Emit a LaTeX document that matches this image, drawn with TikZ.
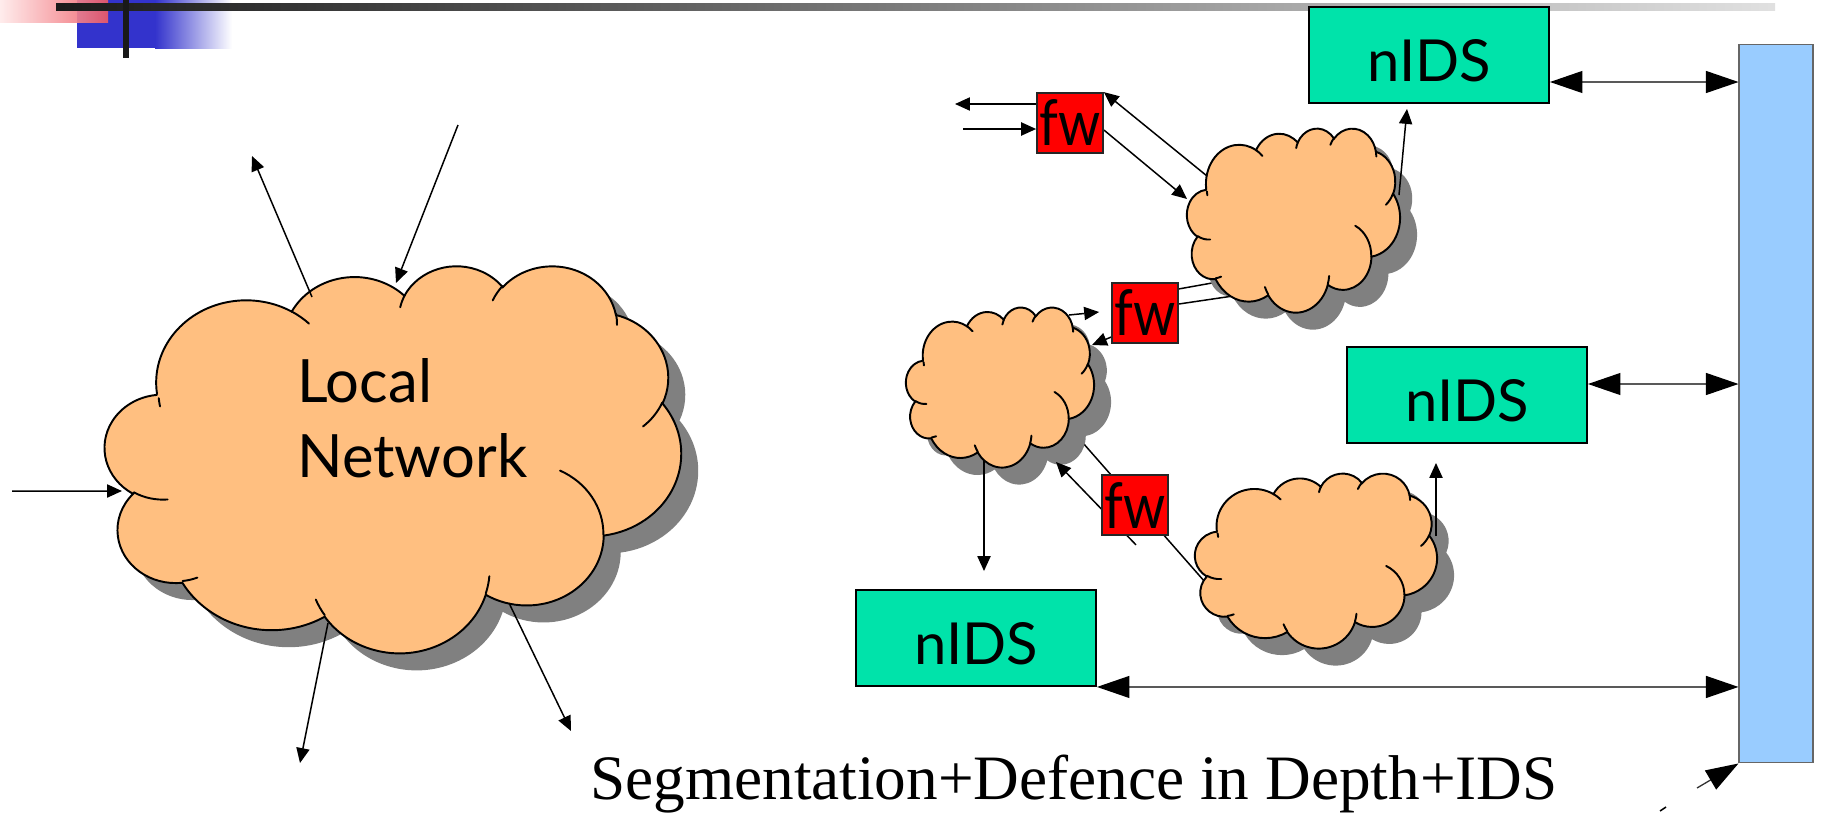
\documentclass[tikz,border=0pt]{standalone}
\usepackage{fontspec}
\setmainfont{Liberation Serif}
\newfontfamily\handfont{Lato}
\usetikzlibrary{arrows.meta,calc}
\pgfdeclarelayer{under}
\pgfdeclarelayer{front}
\pgfsetlayers{under,main,front}

\definecolor{cloudfill}{RGB}{255,191,128}
\definecolor{idsgreen}{RGB}{0,227,170}
\definecolor{barblue}{RGB}{153,204,255}
\definecolor{fwred}{RGB}{255,0,0}
\definecolor{shadowgray}{RGB}{128,128,128}
\definecolor{decoblue}{RGB}{51,51,204}
\definecolor{decopink}{RGB}{240,90,100}

% cloud outline on a 4320 x 4320 grid, y pointing down
\newcommand\cloudrim{(390,1437)
 arc[start angle=-187.746,delta angle=128.106,x radius=675.3,y radius=919.0]
 arc[start angle=-152.02,delta angle=106.58,x radius=533.3,y radius=726.7]
 arc[start angle=-153.48,delta angle=116.14,x radius=436.5,y radius=594.5]
 arc[start angle=-139.70,delta angle=129.49,x radius=485.7,y radius=659.5]
 arc[start angle=-74.77,delta angle=97.98,x radius=533.3,y radius=727.3]
 arc[start angle=-37.54,delta angle=119.40,x radius=677.5,y radius=922.0]
 arc[start angle=0.46,delta angle=121.52,x radius=578.5,y radius=786.7]
 arc[start angle=16.84,delta angle=129.41,x radius=675.2,y radius=921.5]
 arc[start angle=58.98,delta angle=91.22,x radius=772.0,y radius=1054.3]
 arc[start angle=83.31,delta angle=139.79,x radius=436.0,y radius=591.8]
 arc[start angle=120.36,delta angle=143.75,x radius=434.5,y radius=594.5]
 -- cycle}
% short creases where the puffs meet
\newcommand\cloudcreases{
 (469.3,2617.7) arc[start angle=85.55,delta angle=34.81,x radius=434.5,y radius=594.5]
 (692.8,3489.9) arc[start angle=68.23,delta angle=15.08,x radius=436.0,y radius=591.8]
 (1647.8,3909.0) arc[start angle=146.24,delta angle=12.23,x radius=675.2,y radius=921.5]
 (2882.7,3475.1) arc[start angle=4.74,delta angle=12.10,x radius=675.2,y radius=921.5]
 (3412.9,2295.4) arc[start angle=-64.03,delta angle=64.49,x radius=578.5,y radius=786.7]
 (4179.8,1535.4) arc[start angle=23.21,delta angle=26.44,x radius=533.3,y radius=727.3]
 (3832.4,542.6) arc[start angle=-10.21,delta angle=11.03,x radius=485.7,y radius=659.5]
 (2907.8,395.2) arc[start angle=-156.28,delta angle=16.58,x radius=485.7,y radius=659.5]
 (2214.1,472.0) arc[start angle=-167.73,delta angle=14.25,x radius=436.5,y radius=594.5]
 (1400.0,519.2) arc[start angle=-59.64,delta angle=13.92,x radius=675.3,y radius=919.0]
 (412.7,1578.9) arc[start angle=168.96,delta angle=5.79,x radius=675.3,y radius=919.0]}
% \netcloud{left}{top}{width}{height}, all in px
\newcommand\netcloud[4]{%
  \begin{scope}[shift={(#1+17,#2+17)}, xscale=#3/4320, yscale=#4/4320]
    \fill[shadowgray] \cloudrim;
  \end{scope}
  \begin{scope}[shift={(#1,#2)}, xscale=#3/4320, yscale=#4/4320]
    \filldraw[fill=cloudfill, draw=black, line width=1.1pt] \cloudrim;
    \draw[line width=1.1pt, line cap=round] \cloudcreases;
  \end{scope}}
\newcommand\fwlabel{\scalebox{0.85}[1]{fw}}

\tikzset{
  fwbox/.style={draw=black!85, line width=1pt, fill=fwred, minimum width=1.32cm,
    minimum height=1.2cm, inner sep=0pt, font=\handfont\fontsize{36}{36}\selectfont},
  idsbox/.style={draw=black, line width=1.1pt, fill=idsgreen, minimum width=4.8cm,
    minimum height=1.92cm, inner sep=0pt, text height=30.5pt, text depth=0pt,
    font=\handfont\fontsize{33}{33}\selectfont},
  handtext/.style={inner sep=0pt, font=\handfont\fontsize{34}{34}\selectfont},
  link/.style={line width=0.85pt, draw=black},
  arr/.style={link, -{Triangle[length=8.5pt,width=7.5pt]}},
  dbl/.style={line width=0.75pt, draw=black!65,
    {Triangle[length=18.5pt,width=12.5pt,color=black]}-{Triangle[length=18.5pt,width=12.5pt,color=black]}},
  bigarr/.style={line width=0.75pt, draw=black!80, -{Triangle[length=18.5pt,width=12.5pt,color=black]}},
}

\begin{document}
\begin{tikzpicture}[x=0.02cm, y=-0.02cm]
% page and header ornament
\begin{pgfonlayer}{under}
  \fill[white] (0,0) rectangle (1826,812);
  \fill[decoblue] (77,0) rectangle (156,48);
  \shade[left color=decoblue, right color=white] (155,0) rectangle (232,48);
  \shade[left color=red!8, right color=decopink, opacity=0.9] (0,0) rectangle (108,22);
  \shade[left color=black!90, right color=black!12] (56,3) rectangle (1775,10);
  \fill[black!90] (123,0) rectangle (129,58);
\end{pgfonlayer}
\useasboundingbox (0,0) rectangle (1826,812);

% network clouds
\netcloud{105}{265}{576}{387}
\netcloud{1187}{128}{213}{184}
\netcloud{906}{307}{188}{160}
\netcloud{1195}{473}{242}{175}
\node[inner sep=0pt, minimum width=11.52cm, minimum height=7.74cm] (lnet) at (393,458.5) {};
\node[inner sep=0pt, minimum width=4.26cm, minimum height=3.68cm] (c1) at (1293.5,220) {};
\node[inner sep=0pt, minimum width=3.76cm, minimum height=3.2cm] (c2) at (1000,387) {};
\node[inner sep=0pt, minimum width=4.84cm, minimum height=3.5cm] (c3) at (1316,560.5) {};
\node[handtext, anchor=base west] (lbl1) at (297,402) {Local};
\node[handtext, anchor=base west] (lbl2) at (297,477) {Network};

% sensors and the management bus
\node[idsbox] (n1) at (1429,55) {nIDS};
\node[idsbox] (n2) at (1467,395) {nIDS};
\node[idsbox] (n3) at (976,638) {nIDS};
\node[draw=black!60, fill=barblue, line width=0.6pt, minimum width=1.48cm,
      minimum height=14.38cm, inner sep=0pt] (bar) at (1776,403.5) {};

% firewalls sit on top of the links that cross them
\begin{pgfonlayer}{front}
  \node[fwbox] (fw1) at (1070,123) {\fwlabel};
  \node[fwbox] (fw2) at (1145,313) {\fwlabel};
  \node[fwbox] (fw3) at (1135,505) {\fwlabel};
\end{pgfonlayer}

\node[anchor=base west, inner sep=0pt, font=\fontsize{36}{36}\selectfont] (title) at (590,799)
  {Segmentation+Defence in Depth+IDS};

% links hidden behind the clouds
\begin{pgfonlayer}{under}
  \draw[link] ($(fw2.center)+(0,-18)$) -- ($(c1.center)+(-81.5,63)$);
  \draw[link] ($(fw2.center)+(0,-4)$) -- ($(c1.center)+(-60.5,76)$);
  \draw[link] ($(c2.center)+(83,56)$) -- ($(c3.center)+(-111,21.5)$);
\end{pgfonlayer}

% traffic in and out of the local network
\coordinate (inW) at (12,491);
\draw[arr] (inW) -- ($(lnet.center)+(-271,32.5)$);
\coordinate (outNW) at (252,156);
\draw[arr] ($(lnet.center)+(-81,-161.5)$) -- (outNW);
\coordinate (inN) at (458,125);
\draw[arr] (inN) -- ($(lnet.center)+(3,-175.5)$);
\coordinate (outS) at (300,763);
\draw[arr] ($(lnet.center)+(-65,164.5)$) -- (outS);
\coordinate (outSE) at (571,731);
\draw[arr] ($(lnet.center)+(116,144.5)$) -- (outSE);

% outer firewall
\coordinate (fw1out) at (955,104);
\draw[arr] ($(fw1.west)+(0,-19)$) -- (fw1out);
\coordinate (fw1in) at (963,129);
\draw[arr] (fw1in) -- ($(fw1.west)+(0,6)$);
\draw[arr] ($(c1.center)+(-86.5,-44)$) -- (fw1.north east);
\draw[arr] ($(fw1.east)+(0,7)$) -- ($(c1.center)+(-106.5,-21)$);
\draw[arr] ($(c1.center)+(105.5,-25)$) -- ($(n1.south)+(-22,5)$);

% inner firewalls
\draw[arr] ($(fw2.center)+(0,10)$) -- ($(c2.center)+(92,-42)$);
\draw[arr] ($(c2.center)+(69,-72)$) -- ($(fw2.west)+(-12,-1)$);
\draw[arr] ($(fw3.south)+(1,9)$) -- ($(c2.center)+(56,75)$);
\draw[arr] ($(c2.center)+(-16,73)$) -- ($(n3.north)+(8,-18)$);
\draw[arr] ($(c3.center)+(120,-24.5)$) -- ($(n2.south)+(-31,19)$);

% sensor links to the bus
\coordinate (b1) at ($(n1.east)+(0,27)$);
\draw[dbl] (b1) -- (b1 -| bar.west);
\coordinate (b2) at ($(n2.east)+(0,-11)$);
\draw[dbl] (b2) -- (b2 -| bar.west);
\draw[dbl] (n3.south east) -- (n3.south east -| bar.west);
\coordinate (busin) at (1697,788);
\draw[bigarr] (busin) -- (bar.south west);
\coordinate (tk1) at (1660,811);
\coordinate (tk2) at (1666,807);
\draw[link] (tk1) -- (tk2);
\end{tikzpicture}
\end{document}
